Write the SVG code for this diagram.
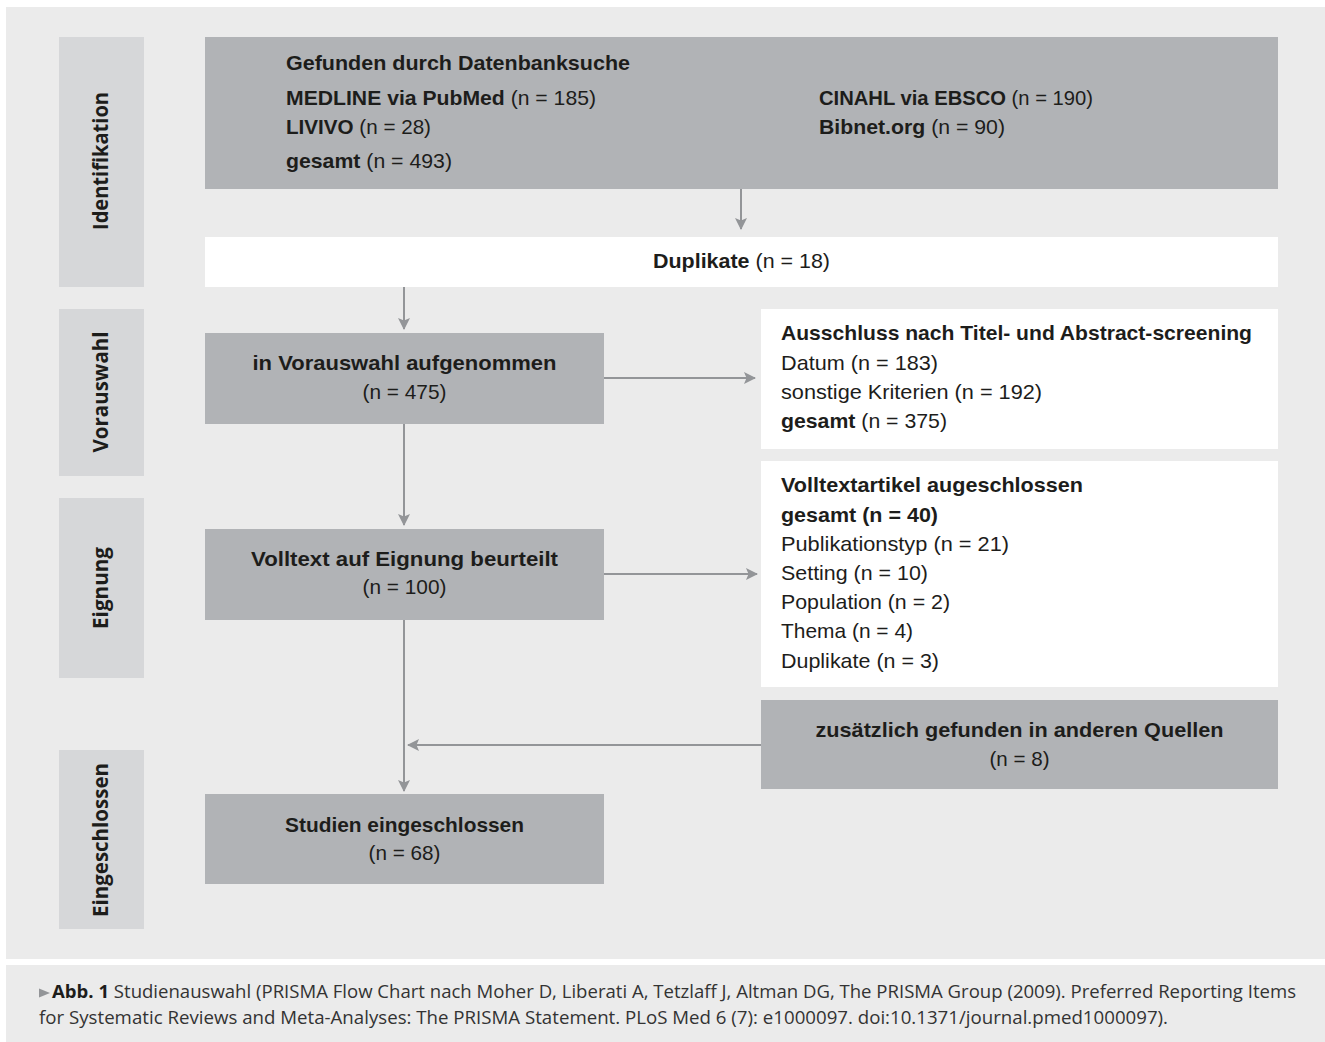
<svg xmlns="http://www.w3.org/2000/svg" width="1325" height="1042" viewBox="0 0 1325 1042">
<defs>
<style>
.bg{fill:#ffffff}
.panel{fill:#ebebeb}
.side{fill:#d6d7d9}
.gbox{fill:#b1b3b6}
.wbox{fill:#ffffff}
.t{font-family:"Liberation Sans",Arial,sans-serif;font-size:21px;fill:#1d1d1b}
.b{font-weight:bold}
.c{text-anchor:middle}
.lab{font-family:"Open Sans","Noto Sans",sans-serif;font-size:21px;font-weight:bold;fill:#1d1d1b;text-anchor:middle}
.cap{font-family:"Open Sans","Noto Sans",sans-serif;font-size:17.5px;fill:#333333}
.con{stroke:#939598;stroke-width:2;fill:none}
</style>
<marker id="ah" viewBox="0 0 12 12" refX="11" refY="6" markerWidth="12" markerHeight="12" markerUnits="userSpaceOnUse" orient="auto">
<path d="M0,0 L12,6 L0,12 L2.5,6 z" fill="#939598"/>
</marker>
</defs>
<rect class="bg" x="0" y="0" width="1325" height="1042"/>
<rect class="panel" x="6" y="7" width="1319" height="952"/>
<rect class="panel" x="6" y="965" width="1319" height="77"/>

<g id="lane-identifikation">
<rect class="side" x="59" y="37" width="85" height="250"/>
<text class="lab" transform="translate(108,161) rotate(-90)" x="0" y="0" textLength="138" lengthAdjust="spacingAndGlyphs">Identifikation</text>
</g>
<g id="lane-vorauswahl">
<rect class="side" x="59" y="309" width="85" height="167"/>
<text class="lab" transform="translate(108,392) rotate(-90)" x="0" y="0" textLength="121" lengthAdjust="spacingAndGlyphs">Vorauswahl</text>
</g>
<g id="lane-eignung">
<rect class="side" x="59" y="498" width="85" height="180"/>
<text class="lab" transform="translate(108,588) rotate(-90)" x="0" y="0" textLength="82" lengthAdjust="spacingAndGlyphs">Eignung</text>
</g>
<g id="lane-eingeschlossen">
<rect class="side" x="59" y="750" width="85" height="179"/>
<text class="lab" transform="translate(108,840) rotate(-90)" x="0" y="0" textLength="154" lengthAdjust="spacingAndGlyphs">Eingeschlossen</text>
</g>

<g id="node-datenbanksuche">
<rect class="gbox" x="205" y="37" width="1073" height="152"/>
<text class="t b" x="286" y="70" textLength="344" lengthAdjust="spacingAndGlyphs">Gefunden durch Datenbanksuche</text>
<text class="t" x="286" y="105" textLength="310" lengthAdjust="spacingAndGlyphs"><tspan class="b">MEDLINE via PubMed</tspan> (n = 185)</text>
<text class="t" x="286" y="134" textLength="145" lengthAdjust="spacingAndGlyphs"><tspan class="b">LIVIVO</tspan> (n = 28)</text>
<text class="t" x="286" y="168" textLength="166" lengthAdjust="spacingAndGlyphs"><tspan class="b">gesamt</tspan> (n = 493)</text>
<text class="t" x="819" y="105" textLength="274" lengthAdjust="spacingAndGlyphs"><tspan class="b">CINAHL via EBSCO</tspan> (n = 190)</text>
<text class="t" x="819" y="134" textLength="186" lengthAdjust="spacingAndGlyphs"><tspan class="b">Bibnet.org</tspan> (n = 90)</text>
</g>

<g id="node-duplikate">
<rect class="wbox" x="205" y="237" width="1073" height="50"/>
<text class="t" x="653" y="268" textLength="177" lengthAdjust="spacingAndGlyphs"><tspan class="b">Duplikate</tspan> (n = 18)</text>
</g>

<g id="node-vorauswahl">
<rect class="gbox" x="205" y="333" width="399" height="91"/>
<text class="t b c" x="404.5" y="370" textLength="304" lengthAdjust="spacingAndGlyphs">in Vorauswahl aufgenommen</text>
<text class="t c" x="404.5" y="399" textLength="84" lengthAdjust="spacingAndGlyphs">(n = 475)</text>
</g>

<g id="node-ausschluss">
<rect class="wbox" x="761" y="309" width="517" height="140"/>
<text class="t b" x="781" y="340" textLength="471" lengthAdjust="spacingAndGlyphs">Ausschluss nach Titel- und Abstract-screening</text>
<text class="t" x="781" y="370" textLength="157" lengthAdjust="spacingAndGlyphs">Datum (n = 183)</text>
<text class="t" x="781" y="399" textLength="261" lengthAdjust="spacingAndGlyphs">sonstige Kriterien (n = 192)</text>
<text class="t" x="781" y="428" textLength="166" lengthAdjust="spacingAndGlyphs"><tspan class="b">gesamt</tspan> (n = 375)</text>
</g>

<g id="node-volltext">
<rect class="gbox" x="205" y="529" width="399" height="91"/>
<text class="t b c" x="404.5" y="566" textLength="307" lengthAdjust="spacingAndGlyphs">Volltext auf Eignung beurteilt</text>
<text class="t c" x="404.5" y="594" textLength="84" lengthAdjust="spacingAndGlyphs">(n = 100)</text>
</g>

<g id="node-volltextartikel">
<rect class="wbox" x="761" y="461" width="517" height="226"/>
<text class="t b" x="781" y="492" textLength="302" lengthAdjust="spacingAndGlyphs">Volltextartikel augeschlossen</text>
<text class="t b" x="781" y="522" textLength="157" lengthAdjust="spacingAndGlyphs">gesamt (n = 40)</text>
<text class="t" x="781" y="551" textLength="228" lengthAdjust="spacingAndGlyphs">Publikationstyp (n = 21)</text>
<text class="t" x="781" y="580" textLength="147" lengthAdjust="spacingAndGlyphs">Setting (n = 10)</text>
<text class="t" x="781" y="609" textLength="169" lengthAdjust="spacingAndGlyphs">Population (n = 2)</text>
<text class="t" x="781" y="638" textLength="132" lengthAdjust="spacingAndGlyphs">Thema (n = 4)</text>
<text class="t" x="781" y="668" textLength="158" lengthAdjust="spacingAndGlyphs">Duplikate (n = 3)</text>
</g>

<g id="node-zusaetzlich">
<rect class="gbox" x="761" y="700" width="517" height="89"/>
<text class="t b c" x="1019.5" y="737" textLength="408" lengthAdjust="spacingAndGlyphs">zusätzlich gefunden in anderen Quellen</text>
<text class="t c" x="1019.5" y="766" textLength="60" lengthAdjust="spacingAndGlyphs">(n = 8)</text>
</g>

<g id="node-studien">
<rect class="gbox" x="205" y="794" width="399" height="90"/>
<text class="t b c" x="404.5" y="832" textLength="239" lengthAdjust="spacingAndGlyphs">Studien eingeschlossen</text>
<text class="t c" x="404.5" y="860" textLength="72" lengthAdjust="spacingAndGlyphs">(n = 68)</text>
</g>

<g id="connectors">
<line class="con" x1="741" y1="189" x2="741" y2="229" marker-end="url(#ah)"/>
<line class="con" x1="404" y1="287" x2="404" y2="329" marker-end="url(#ah)"/>
<line class="con" x1="404" y1="424" x2="404" y2="525" marker-end="url(#ah)"/>
<line class="con" x1="604" y1="378" x2="755" y2="378" marker-end="url(#ah)"/>
<line class="con" x1="604" y1="574" x2="757" y2="574" marker-end="url(#ah)"/>
<line class="con" x1="404" y1="620" x2="404" y2="791" marker-end="url(#ah)"/>
<line class="con" x1="761" y1="745" x2="408" y2="745" marker-end="url(#ah)"/>
</g>

<g id="caption">
<polygon points="39,988.5 50,993 39,997.5" fill="#939598"/>
<text class="cap" x="52" y="998" textLength="1244" lengthAdjust="spacingAndGlyphs"><tspan font-weight="bold" fill="#1d1d1b">Abb. 1</tspan>  Studienauswahl (PRISMA Flow Chart nach Moher D, Liberati A, Tetzlaff J, Altman DG, The PRISMA Group (2009). Preferred Reporting Items</text>
<text class="cap" x="39" y="1024" textLength="1129" lengthAdjust="spacingAndGlyphs">for Systematic Reviews and Meta-Analyses: The PRISMA Statement. PLoS Med 6 (7): e1000097. doi:10.1371/journal.pmed1000097).</text>
</g>
</svg>
